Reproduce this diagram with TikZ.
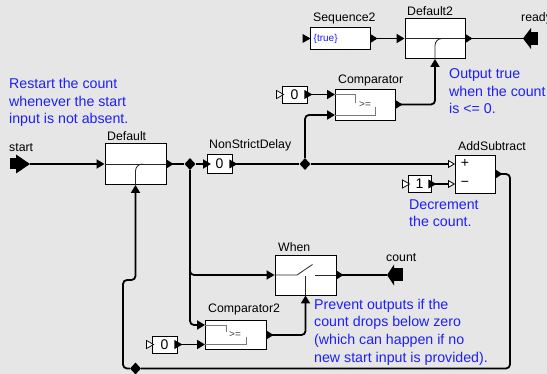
\documentclass[tikz,border=0pt]{standalone}
\usepackage{fontspec}
\setmainfont{Liberation Sans}
\usetikzlibrary{arrows.meta,shapes.geometric}
\definecolor{bg}{RGB}{230,230,230}
\definecolor{note}{RGB}{30,30,250}
\definecolor{icon}{RGB}{120,120,120}
\newcommand\outtri[1]{\fill[shift={(#1)}] (0,-4.5) -- (7,0) -- (0,4.5) -- cycle;}
\newcommand\outtrismall[1]{\fill[shift={(#1)}] (-3,-4.5) -- (5,0) -- (-3,4.5) -- cycle;}
\newcommand\hintri[1]{\filldraw[fill=white,draw=black,line width=0.7pt,shift={(#1)}] (-5,-4) -- (2,0) -- (-5,4) -- cycle;}
\begin{document}
\begin{tikzpicture}[x=1pt,y=-1pt,
  blk/.style={draw=black,fill=white,line width=0.9pt,inner sep=0pt},
  wire/.style={line width=1.8pt,rounded corners=4pt},
  intip/.style={-{Triangle[length=8pt,width=9pt]}},
  hintip/.style={-{Triangle[length=7pt,width=8pt,fill=white,line width=0.8pt]}},
  rel/.style={diamond,fill=black,inner sep=0pt,minimum width=11pt,minimum height=12pt},
  lbl/.style={font=\fontsize{12.3}{14}\selectfont,anchor=base west,inner sep=0pt},
  notetext/.style={font=\fontsize{14.2}{17}\selectfont,text=note,anchor=base west,inner sep=0pt},
  val/.style={font=\fontsize{14}{16}\selectfont},
  ico/.style={line width=0.8pt,draw=icon},
  icodark/.style={line width=0.8pt,draw=black!85},
]
\fill[bg] (0,0) rectangle (547,374);
\useasboundingbox (0,0) rectangle (547,374);

% ---------- blocks ----------
\node[blk,minimum width=61pt,minimum height=41pt] (dflt) at (135.5,164) {};
\draw[icodark] (dflt.west) -- (dflt.east);
\draw[icodark] (dflt.south) -- (135.5,171) .. controls (135.5,167.1) and (138.6,164) .. (142.5,164);

\node[blk,minimum width=25pt,minimum height=19pt,val] (nsd) at (219.5,164) {0};

\node[blk,minimum width=60pt,minimum height=22pt] (seq2) at (340,38.5) {};
\node[font=\fontsize{10}{12}\selectfont,text=note,anchor=west,inner sep=0pt] (seqv) at (313.5,39) {\{true\}};

\node[blk,minimum width=60pt,minimum height=40pt] (dflt2) at (435,38.5) {};
\draw[icodark] (dflt2.west) -- (dflt2.east);
\draw[icodark] (dflt2.south) -- (435,45.5) .. controls (435,41.6) and (438.1,38.5) .. (442,38.5);

\node[blk,minimum width=60pt,minimum height=31pt] (cmp) at (365,104.5) {};
\draw[ico] (335,94.5) -| (355,103.5);
\draw[ico] (335,115) -| (375,107);
\node[font=\fontsize{10}{12}\selectfont,text=black!75,inner sep=0pt] (cmpt) at (365,104.5) {>=};

\node[blk,minimum width=25pt,minimum height=17pt,val] (c0a) at (294.5,94.5) {0};

\node[blk,minimum width=40pt,minimum height=38pt] (add) at (475,174) {};
\node[val,inner sep=0pt] (plus) at (465,163.8) {+};
\node[val,inner sep=0pt] (minus) at (465,184.3) {−};

\node[blk,minimum width=23pt,minimum height=17pt,val] (c1) at (419.5,184) {1};

\node[blk,minimum width=61pt,minimum height=40pt] (when) at (305.5,275) {};
\draw[icodark] (when.west) -- (297,275) -- (312.5,264.5);
\draw[icodark] (315,275) -- (when.east);
\draw[icodark] (when.south) -- (305.5,276.5);

\node[blk,minimum width=61pt,minimum height=29pt] (cmp2) at (235.5,335) {};
\draw[ico] (205,325) -| (226,332);
\draw[ico] (205,344.5) -| (246,337);
\node[font=\fontsize{10}{12}\selectfont,text=black!75,inner sep=0pt] (cmp2t) at (235,334.5) {>=};

\node[blk,minimum width=25pt,minimum height=17pt,val] (c0b) at (164.5,344.5) {0};

% ---------- relations ----------
\node[rel] (r1) at (190,164) {};
\node[rel] (r2) at (305,164) {};
\node[rel] (r3) at (135.5,368.5) {};

% ---------- external ports ----------
\coordinate (start) at (30,164);
\coordinate (ready) at (523,38.5);
\coordinate (count) at (387,275);
\fill (10,158.5) rectangle (17,169.5);
\fill (16,154.5) -- (start) -- (16,173.5) -- cycle;
\fill (ready) -- (531,28) -- (531,49) -- cycle;
\fill (530.5,32) rectangle (538,45);
\fill (count) -- (394,264.5) -- (394,285.5) -- cycle;
\fill (393.5,268.5) rectangle (403,281.5);

% ---------- port coordinates ----------
\coordinate (nsdIn) at (211,164);
\coordinate (cmpA) at (335,94.5);
\coordinate (cmpB) at (335,115);
\coordinate (addP) at (455,164);
\coordinate (addM) at (455,184);
\coordinate (cmp2A) at (205,325);
\coordinate (cmp2B) at (205,344.5);
\coordinate (fbR) at (510,368.5);
\coordinate (fbL) at (123,368.5);
\coordinate (fbU) at (123,280);

% ---------- wires ----------
\draw[wire,intip] (start) -- (dflt.west);
\draw[wire] (dflt.east) -- (r1);
\draw[wire,intip] (r1) -- (nsdIn);
\draw[wire,hintip] (nsd.east) -- (r2) -- (addP);
\draw[wire,intip] (r2) |- (cmpB);
\draw[wire,intip] (c0a.east) -- (cmpA);
\draw[wire,intip] (cmp.east) -| (dflt2.south);
\draw[wire,intip] (seq2.east) -- (dflt2.west);
\draw[wire] (dflt2.east) -- (ready);
\draw[wire,hintip] (c1.east) -- (addM);
\draw[wire] (add.east) -| (fbR) -- (r3);
\draw[wire,intip] (r3) -- (fbL) -- (fbU) -| (dflt.south);
\draw[wire,intip] (r1) |- (when.west);
\draw[wire,intip] (r1) |- (cmp2A);
\draw[wire,intip] (c0b.east) -- (cmp2B);
\draw[wire,intip] (cmp2.east) -| (when.south);
\draw[wire] (when.east) -- (count);

% ---------- output / unconnected ports ----------
\outtri{dflt.east}
\outtri{cmp.east}
\outtri{seq2.east}
\outtri{dflt2.east}
\outtri{add.east}
\outtri{when.east}
\outtri{cmp2.east}
\outtrismall{nsd.east}
\outtrismall{c0a.east}
\outtrismall{c1.east}
\outtrismall{c0b.east}
\hintri{c0a.west}
\hintri{c1.west}
\hintri{c0b.west}
\fill[shift={(seq2.west)}] (-7,-4.5) -- (1,0) -- (-7,4.5) -- cycle;

% ---------- labels ----------
\node[lbl] (lstart) at (9,151.5) {start};
\node[lbl] (ldflt) at (107,140.5) {Default};
\node[lbl] (lnsd) at (209,149) {NonStrictDelay};
\node[lbl] (lseq) at (313,22) {Sequence2};
\node[lbl] (ldflt2) at (407,15.5) {Default2};
\node[lbl] (lready) at (521,22) {ready};
\node[lbl] (lcmp) at (338,83.5) {Comparator};
\node[lbl] (ladd) at (458,150.5) {AddSubtract};
\node[lbl] (lwhen) at (278,252) {When};
\node[lbl] (lcount) at (386,262) {count};
\node[lbl] (lcmp2) at (208,313) {Comparator2};

% ---------- annotations ----------
\node[notetext] (na1) at (9,88.5) {Restart the count};
\node[notetext] (na2) at (9,106.2) {whenever the start};
\node[notetext] (na3) at (9,123.9) {input is not absent.};
\node[notetext] (nb1) at (449,78.5) {Output true};
\node[notetext] (nb2) at (449,96.2) {when the count};
\node[notetext] (nb3) at (449,113.9) {is <= 0.};
\node[notetext] (nc1) at (409,209.2) {Decrement};
\node[notetext] (nc2) at (409,226.9) {the count.};
\node[notetext] (nd1) at (314,309.2) {Prevent outputs if the};
\node[notetext] (nd2) at (314,326.9) {count drops below zero};
\node[notetext] (nd3) at (314,344.6) {(which can happen if no};
\node[notetext] (nd4) at (314,362.3) {new start input is provided).};
\end{tikzpicture}
\end{document}
